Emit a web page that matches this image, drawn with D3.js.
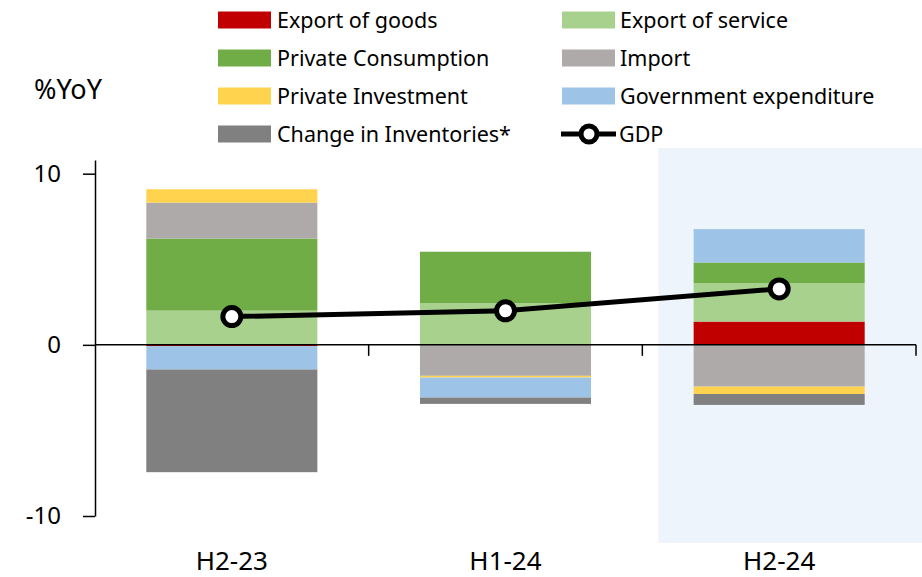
<!DOCTYPE html>
<html>
<head>
<meta charset="utf-8">
<script src="https://cdn.jsdelivr.net/npm/d3@7"></script>
<style>
  body { margin: 0; background: #fff; }
  svg { display: block; font-family: "Noto Sans", sans-serif; }
</style>
</head>
<body>
<svg id="chart" width="922" height="577"></svg>
<script>
// periods on the x axis
var periods = ['H2-23', 'H1-24', 'H2-24'];

// contributions to GDP growth, %YoY
var exportGoods   = [-0.08, 0.0, 1.36];
var exportService = [2.0, 2.44, 2.25];
var consumption   = [4.21, 3.0, 1.2];
var imports       = [2.1, -1.81, -2.44];
var investment    = [0.78, -0.1, -0.43];
var government    = [-1.36, -1.17, 1.95];
var inventories   = [-6.0, -0.37, -0.64];
var gdp           = [1.65, 1.99, 3.27];

var yTicks = [-10, 0, 10];

var series = [
    { key: 'goods', name: 'Export of goods', values: exportGoods, color: '#C00000' },
    { key: 'service', name: 'Export of service', values: exportService, color: '#A9D18E' },
    { key: 'consumption', name: 'Private Consumption', values: consumption, color: '#70AD47' },
    { key: 'import', name: 'Import', values: imports, color: '#AEAAAA' },
    { key: 'investment', name: 'Private Investment', values: investment, color: '#FFD34D' },
    { key: 'government', name: 'Government expenditure', values: government, color: '#9DC3E6' },
    { key: 'inventories', name: 'Change in Inventories*', values: inventories, color: '#808080' }
];

var svg = d3.select('#chart');

var x = d3.scaleBand()
    .domain(periods)
    .range([95, 916])
    .paddingInner(0.375)
    .paddingOuter(0.1875);

var xBand = d3.scaleBand().domain(periods).range([95, 916]); // full slots, for ticks / shading

var y = d3.scaleLinear()
    .domain([-10, 10.8])
    .range([516, 160]);

// rows for the stack
var rows = periods.map(function(p, i) {
    var r = { period: p };
    series.forEach(function(s) { r[s.key] = s.values[i]; });
    return r;
});

var stacked = d3.stack()
    .keys(series.map(function(s) { return s.key; }))
    .offset(d3.stackOffsetDiverging)(rows);

// shaded latest period
svg.append('rect')
    .attr('x', xBand('H2-24') + 16)
    .attr('y', 148)
    .attr('width', 922 - xBand('H2-24') - 16)
    .attr('height', 395)
    .attr('fill', '#EDF4FB');

// bars
var layers = svg.append('g').selectAll('g')
    .data(stacked)
    .enter().append('g')
    .attr('fill', function(d, i) { return series[i].color; });

layers.selectAll('rect')
    .data(function(d) { return d; })
    .enter().append('rect')
    .attr('x', function(d) { return x(d.data.period); })
    .attr('width', x.bandwidth())
    .attr('y', function(d) { return y(Math.max(d[0], d[1])); })
    .attr('height', function(d) { return Math.abs(y(d[0]) - y(d[1])); });

// y axis
var yAxis = svg.append('g')
    .attr('transform', 'translate(95,0)')
    .call(d3.axisLeft(y).tickValues(yTicks).tickSize(12).tickPadding(22).tickSizeOuter(0)
        .tickFormat(function(d) { return String(d); }));
yAxis.select('.domain').attr('stroke', '#000').attr('stroke-width', 1.5);
yAxis.selectAll('.tick line').attr('stroke', '#000').attr('stroke-width', 1.5);
yAxis.selectAll('.tick text')
    .attr('font-size', 24)
    .attr('fill', '#000')
    .style('font-family', '"Noto Sans", sans-serif');

// zero line with category ticks
var xAxis = svg.append('g')
    .attr('transform', 'translate(0,' + y(0) + ')');
xAxis.append('line')
    .attr('x1', 95).attr('x2', 916)
    .attr('stroke', '#000').attr('stroke-width', 1.5);
xAxis.selectAll('.sep')
    .data(periods)
    .enter().append('line')
    .attr('class', 'sep')
    .attr('x1', function(d) { return xBand(d) + xBand.bandwidth(); })
    .attr('x2', function(d) { return xBand(d) + xBand.bandwidth(); })
    .attr('y1', 0).attr('y2', 11)
    .attr('stroke', '#000').attr('stroke-width', 1.5);

// category labels
svg.append('g').selectAll('text')
    .data(periods)
    .enter().append('text')
    .attr('x', function(d) { return x(d) + x.bandwidth() / 2; })
    .attr('y', 570)
    .attr('text-anchor', 'middle')
    .attr('font-size', 26)
    .text(function(d) { return d; });

// unit label
svg.append('text')
    .attr('x', 34).attr('y', 99)
    .attr('font-size', 27)
    .text('%YoY');

// GDP line
var gdpPts = periods.map(function(p, i) { return [x(p) + x.bandwidth() / 2, y(gdp[i])]; });
svg.append('path')
    .attr('d', d3.line()(gdpPts))
    .attr('fill', 'none')
    .attr('stroke', '#000')
    .attr('stroke-width', 5);
svg.append('g').selectAll('circle')
    .data(gdpPts)
    .enter().append('circle')
    .attr('cx', function(d) { return d[0]; })
    .attr('cy', function(d) { return d[1]; })
    .attr('r', 9)
    .attr('fill', '#fff')
    .attr('stroke', '#000')
    .attr('stroke-width', 5);

// legend, two columns
var legend = svg.append('g');
var leftCol = ['goods', 'consumption', 'investment', 'inventories'];
var rightCol = ['service', 'import', 'government'];
function byKey(k) { return series.filter(function(s) { return s.key === k; })[0]; }

leftCol.forEach(function(k, i) {
    var s = byKey(k);
    var cy = 20 + i * 38;
    legend.append('rect')
        .attr('x', 218).attr('y', cy - 8.5)
        .attr('width', 53).attr('height', 17)
        .attr('fill', s.color);
    legend.append('text')
        .attr('x', 277).attr('y', cy + 7.5)
        .attr('font-size', 21.5)
        .text(s.name);
});
rightCol.forEach(function(k, i) {
    var s = byKey(k);
    var cy = 20 + i * 38;
    legend.append('rect')
        .attr('x', 562).attr('y', cy - 8.5)
        .attr('width', 53).attr('height', 17)
        .attr('fill', s.color);
    legend.append('text')
        .attr('x', 620).attr('y', cy + 7.5)
        .attr('font-size', 21.5)
        .text(s.name);
});
legend.append('line')
    .attr('x1', 561).attr('x2', 616)
    .attr('y1', 134).attr('y2', 134)
    .attr('stroke', '#000').attr('stroke-width', 5);
legend.append('circle')
    .attr('cx', 589).attr('cy', 134).attr('r', 8)
    .attr('fill', '#fff').attr('stroke', '#000').attr('stroke-width', 5);
legend.append('text')
    .attr('x', 619).attr('y', 141.5)
    .attr('font-size', 21.5)
    .text('GDP');
</script>
</body>
</html>
